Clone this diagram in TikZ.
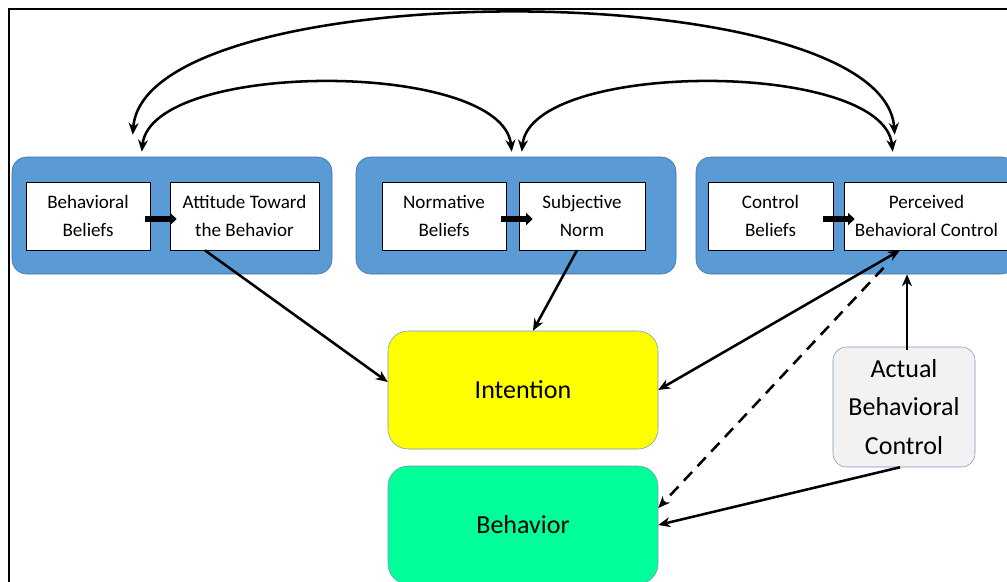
\documentclass[tikz,border=0pt]{standalone}
\usepackage{fontspec}
\setmainfont{Carlito}
\usepackage{tikz}
\usetikzlibrary{positioning, calc, arrows.meta}
\definecolor{grpblue}{RGB}{91,155,213}
\definecolor{grpedge}{RGB}{65,113,156}
\definecolor{boxedge}{RGB}{120,150,190}
\definecolor{intyellow}{RGB}{255,255,0}
\definecolor{behgreen}{RGB}{0,255,153}
\definecolor{abcgray}{RGB}{242,242,242}

\begin{document}
\begin{tikzpicture}[x=0.75pt, y=-0.75pt, >={Stealth[length=9pt, width=7.5pt]},
    grp/.style={draw=grpedge, fill=grpblue, rounded corners=11pt, minimum width=240pt, minimum height=87.75pt},
    inbox/.style={draw=black, fill=white, inner sep=0pt, align=center, minimum height=51pt, font=\fontsize{14.3}{21}\selectfont},
    bigbox/.style={draw=boxedge, rounded corners=15pt, inner sep=0pt, minimum width=202.5pt, minimum height=88.5pt, font=\fontsize{19.5}{25}\selectfont},
    fat/.style={line width=5pt, -{Triangle[length=5pt, width=9pt]}},
    link/.style={line width=1.9pt}]
    \useasboundingbox (0,0) rectangle (1007,582);
    % outer frame
    \draw[line width=1.3pt] (9,9) rectangle (1040,610);

    % Group boxes
    \node[grp] (grpA) at (172,215.5) {};
    \node[grp] (grpB) at (516,215.5) {};
    \node[grp] (grpC) at (856,215.5) {};

    % Beliefs and their outcomes
    \node[inbox, minimum width=93pt] (BB) at (88,216) {Behavioral\\Beliefs};
    \node[inbox, minimum width=111.75pt] (ATB) at (244.5,216) {Attitude Toward\\the Behavior};
    \node[inbox, minimum width=93pt] (NB) at (444,216) {Normative\\Beliefs};
    \node[inbox, minimum width=94.5pt] (SN) at (582,216) {Subjective\\Norm};
    \node[inbox, minimum width=93.75pt] (CB) at (770.5,216) {Control\\Beliefs};
    \node[inbox, minimum width=123.75pt] (PBC) at (926.5,216) {Perceived\\Behavioral Control};

    \draw[fat] ($(BB.east)+(-5,3)$) -- ($(ATB.west)+(7,3)$);
    \draw[fat] ($(NB.east)+(-5,3)$) -- ($(SN.west)+(14,3)$);
    \draw[fat] ($(CB.east)+(-10,3)$) -- ($(PBC.west)+(11,3)$);

    % Intention, Behavior, Actual control
    \node[bigbox, fill=intyellow] (INT) at (523,390) {Intention};
    \node[bigbox, fill=behgreen] (BEH) at (523,525) {Behavior};
    \node[draw=boxedge, fill=abcgray, rounded corners=10pt, inner sep=0pt, align=center,
      minimum width=106.5pt, minimum height=90pt, font=\fontsize{19.5}{29}\selectfont] (ABC) at (904,407) {Actual\\Behavioral\\Control};

    % correlation arcs
    \coordinate (oA) at ($(grpA.north west)+(121,-22)$);
    \coordinate (iA) at ($(grpA.north west)+(130,-5)$);
    \coordinate (iB1) at ($(grpB.north west)+(156,-5)$);
    \coordinate (iB2) at ($(grpB.north west)+(166,-5)$);
    \coordinate (oC) at ($(grpC.north west)+(199,-22)$);
    \coordinate (iC) at ($(grpC.north west)+(197,-5)$);
    \draw[link, <->] (oA) .. controls +(12,-162) and +(-12,-162) .. (oC);
    \draw[link, <->] (iA) .. controls +(10,-92) and +(-10,-92) .. (iB1);
    \draw[link, <->] (iB2) .. controls +(10,-92) and +(-10,-92) .. (iC);

    % paths to intention and behavior
    \draw[link, ->] ($(ATB.south west)!0.235!(ATB.south east)$) -- ($(INT.west)+(0,-8)$);
    \draw[link, ->] ($(SN.south)+(-5,0)$) -- ($(INT.north)+(10,0)$);
    \draw[link, <->] ($(PBC.south west)!0.34!(PBC.south east)$) -- (INT.east);
    \draw[link, ->, dash pattern=on 9pt off 6pt, shorten <=18pt] ($(PBC.south west)!0.34!(PBC.south east)$) -- ($(BEH.east)+(0,-17)$);
    \draw[link, ->] ($(ABC.north)+(3,3)$) -- ($(ABC.north |- grpC.south)+(3,0)$);
    \draw[link, ->] ($(ABC.south)+(-4,0)$) -- (BEH.east);
\end{tikzpicture}
\end{document}
